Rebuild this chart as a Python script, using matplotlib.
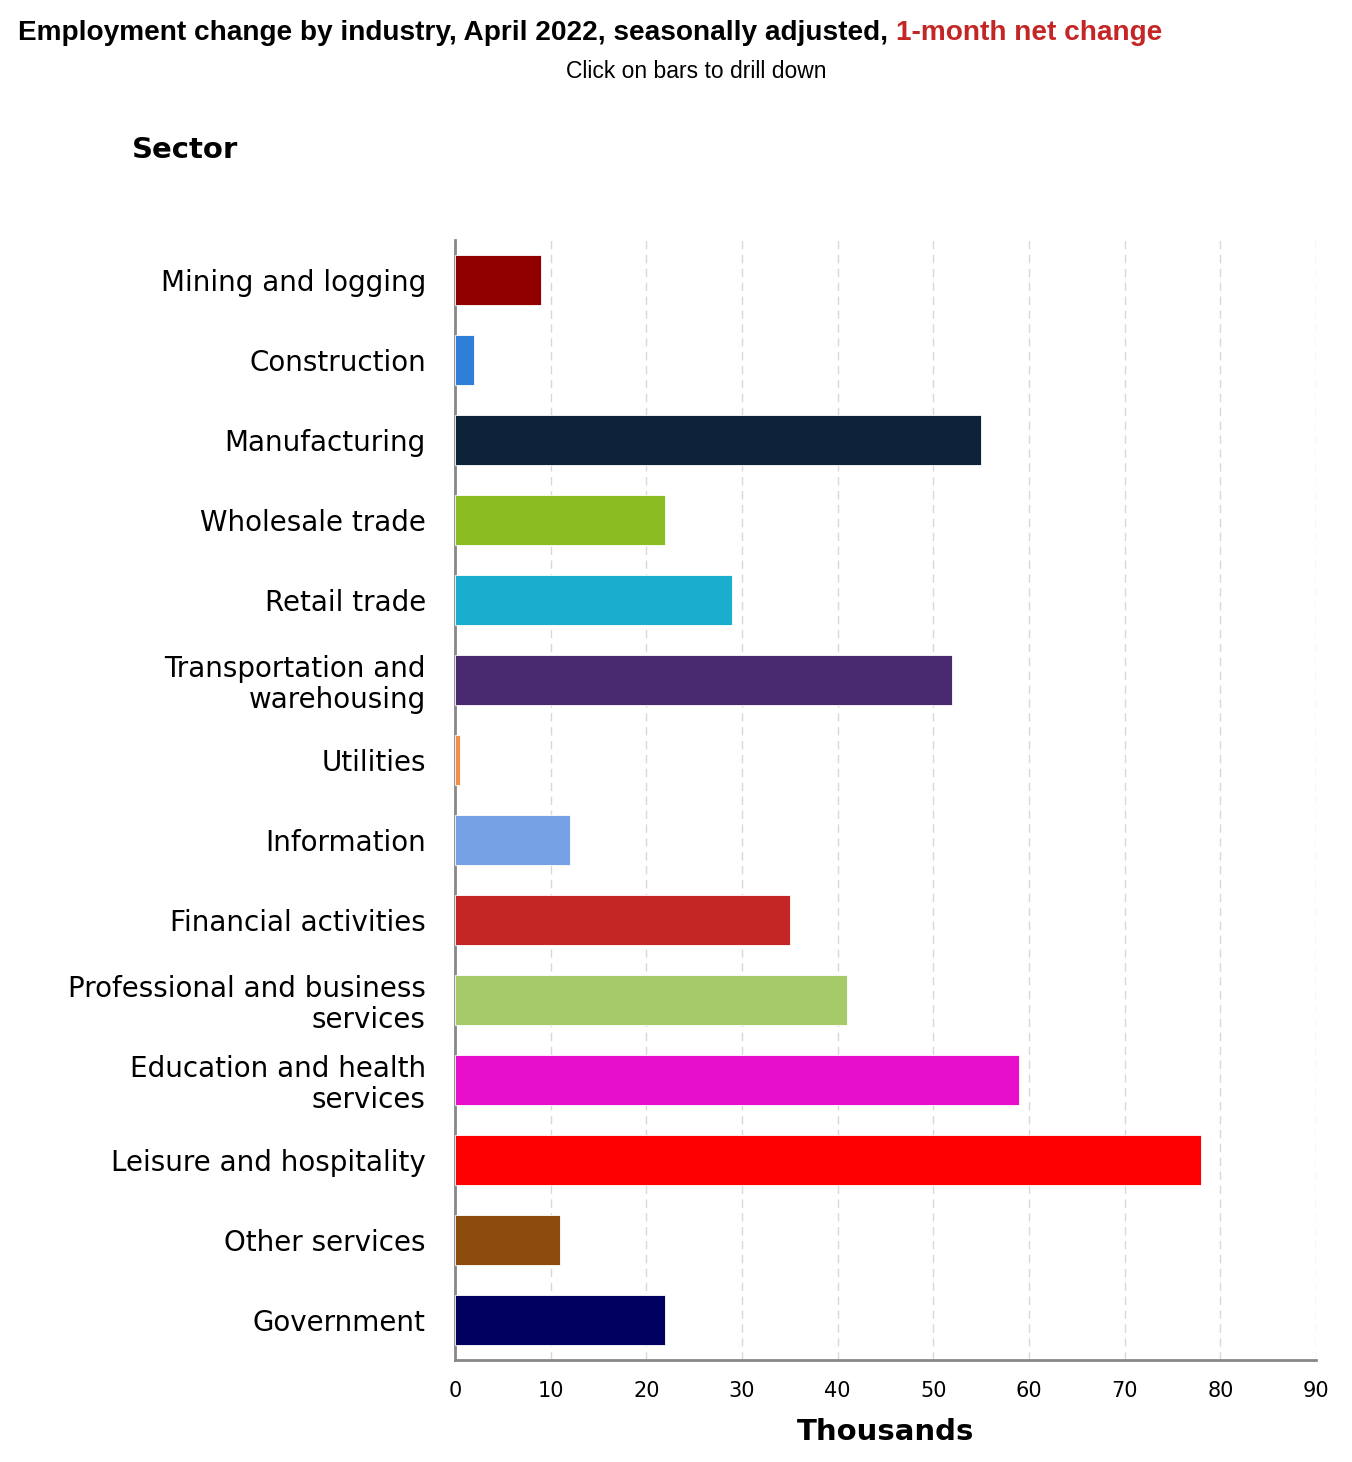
import matplotlib as mpl
mpl.use('Agg')
import matplotlib.pyplot as plt

sectors = ['Mining and logging', 'Construction', 'Manufacturing', 'Wholesale trade',
           'Retail trade', 'Transportation and\nwarehousing', 'Utilities', 'Information',
           'Financial activities', 'Professional and business\nservices',
           'Education and health\nservices', 'Leisure and hospitality', 'Other services',
           'Government']
change = [9, 2, 55, 22, 29, 52, 0.5, 12, 35, 41, 59, 78, 11, 22]
colors = ['#910000', '#2f7ed8', '#0d233a', '#8bbc21', '#1aadce', '#492970', '#f28f43',
          '#77a1e5', '#c42525', '#a6c96a', '#e70fcb', '#ff0000', '#8b4c0b', '#000060']
xticks = list(range(0, 100, 10))

fig = plt.figure(figsize=(13.52, 14.62), dpi=100)
ax = fig.add_axes([455 / 1352, 1 - 1360 / 1462, 861 / 1352, 1120 / 1462])

ypos = list(range(len(sectors)))
ax.barh(ypos, change, height=0.625, color=colors, edgecolor='white', linewidth=0.6, zorder=3)
ax.set_ylim(len(sectors) - 0.5, -0.5)
ax.set_xlim(0, 90)
ax.set_yticks(ypos)
ax.set_yticklabels(sectors, fontsize=20, family='DejaVu Sans', linespacing=1.15)
ax.set_xticks(xticks)
ax.set_xticklabels([str(t) for t in xticks], fontsize=15, family='DejaVu Sans')
ax.tick_params(axis='both', length=0)
ax.tick_params(axis='y', pad=21)
ax.tick_params(axis='x', pad=15)
ax.xaxis.grid(True, color='#d8d8d8', linestyle=(0, (6, 4)), linewidth=1, zorder=0)
for s in ['top', 'right']:
    ax.spines[s].set_visible(False)
ax.spines['left'].set_color('#888888')
ax.spines['left'].set_linewidth(2)
ax.spines['bottom'].set_color('#888888')
ax.spines['bottom'].set_linewidth(2)

ax.set_xlabel('Thousands', fontsize=21, fontweight='bold', labelpad=12)

fig.text(18 / 1352, 1 - 33 / 1462, 'Employment change by industry, April 2022, seasonally adjusted, ',
         fontsize=20.2, fontweight='bold', family='Liberation Sans', va='center', ha='left')
t = fig.texts[-1]
fig.canvas.draw()
bb = t.get_window_extent()
fig.text(bb.x1 / 1352, 1 - 33 / 1462, '1-month net change', fontsize=20.2, fontweight='bold',
         family='Liberation Sans', color='#c42525', va='center', ha='left')
fig.text(696 / 1352, 1 - 72 / 1462, 'Click on bars to drill down', fontsize=16.5,
         family='Liberation Sans', va='center', ha='center')
fig.text(132 / 1352, 1 - 150 / 1462, 'Sector', fontsize=21, fontweight='bold', va='center', ha='left')

fig.savefig('out.png', dpi=100)
